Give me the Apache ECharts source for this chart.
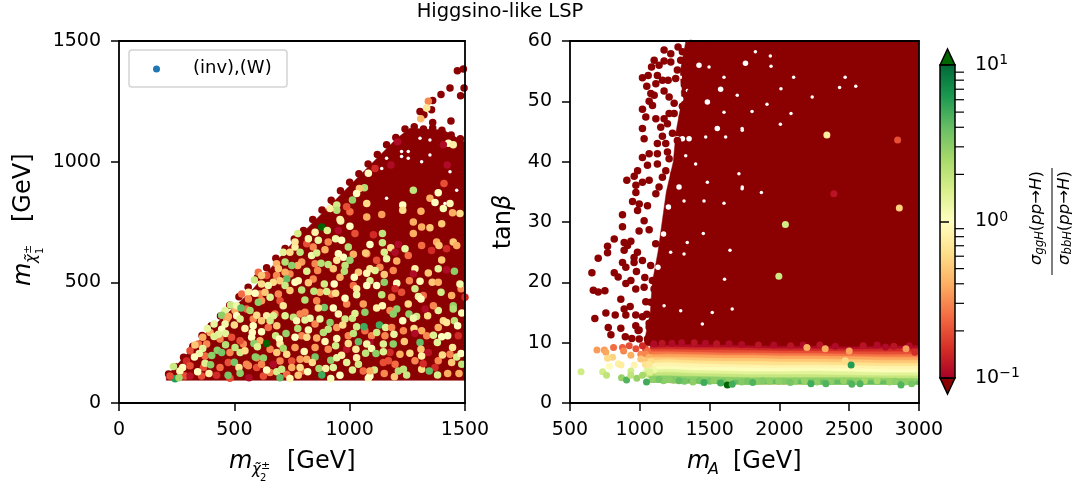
<!DOCTYPE html>
<html><head><meta charset="utf-8"><title>Higgsino-like LSP</title>
<style>html,body{margin:0;background:#fff}#c{width:1077px;height:482px}</style>
<script src="https://cdn.jsdelivr.net/npm/echarts@6/dist/echarts.min.js"></script></head>
<body><div id="c"></div>
<script>
// ---- Data. Points: [x, y, ratio]; dense regions as envelopes.
const colorbarMinor=[0.2,0.3,0.4,0.5,0.6,0.7,0.8,0.9,2,3,4,5,6,7,8,9];
const colormapStops=['#a50026','#d73027','#f46d43','#fdae61','#fee08b','#ffffbf','#d9ef8b','#a6d96a','#66bd63','#1a9850','#006837'];

// left panel: outline of the solidly covered area
const leftEnvelope=[[205,98],[205,110],[380,292],[568,458],[741,652],[842,749],[1045,944],[1204,1096],[1261,1138],[1406,1131],[1500,1080],[1500,94],[205,94]];
const leftGaps=[[1225,1042],[1225,1021],[1254,1042],[1254,1014],[1305,1097],[1348,1090],[1312,1000],[1139,972],[1160,1014],[1435,958],[1160,848],[1413,827],[1464,882],[1348,1028]];
const leftDark=[[215,120],[245,150],[280,190],[320,235],[360,280],[400,320],[440,360],[480,405],[520,440],[560,480],[600,520],[640,560],[680,600],[720,640],[760,680],[800,715],[840,760],[880,800],[920,840],[960,880],[1000,915],[1040,950],[1080,990],[1120,1030],[1160,1070],[1200,1100],[1240,1135],[1280,1145],[1320,1135],[1360,1140],[1400,1130],[1440,1110],[1480,1095],
[1467,1377],[1493,1384],[1435,1305],[1396,1278],[1481,1273],[1496,1305],[1360,1253],[1355,1215],[1305,1208],[1322,1194],[1360,1162],[1439,1169]];
const leftReds=[[683,528,.3],[640,528,.2],[604,542,.25],[683,577,.4],[741,535,.3],[532,452,.25],[618,424,.35],[503,383,.4],[553,389,.25],[395,292,.4],[467,348,.35],[582,348,.3],[647,313,.25],[438,265,.3],[380,244,.3],[344,244,.25],[308,216,.2],[481,209,.3],[611,258,.4],[539,244,.3],[655,223,.3],[763,230,.35],[366,147,.2],[438,147,.25],[474,168,.2],[553,161,.3],[597,147,.2],[655,126,.3],[727,119,.25],[286,112,.2],[358,112,.2],[481,103,.2],[626,112,.2],[373,195,.25],[293,174,.15],[597,188,.3],[698,174,.3],[749,174,.2],[676,369,.3],[611,452,.3],[698,424,.2],
[842,646,.3],[814,660,.2],[907,667,.3],[1023,702,.2],[1074,618,.3],[1117,591,.2],[1254,611,.25],[1355,632,.15],[1312,653,.25],[1377,667,.4],[1387,653,.5],[1449,667,.5],[1464,653,.4],[1399,593,.5],[1420,639,.15],[1276,702,.4],[1312,729,.4],[1348,726,.5],[1276,750,.4],[1399,743,.5],[792,584,.35],[775,570,.4],[850,577,.3],[842,514,.3],[958,521,.4],[871,459,.4],[922,452,.3],[1131,563,.3],[1016,487,.25],[1182,438,.3],[1225,459,.2],[1319,445,.25],[1442,445,.4],[1483,473,.3],[857,424,.3],[987,410,.3],[1059,410,.35],[1175,383,.3],[806,376,.3],[785,369,.3],[850,327,.3],[944,313,.35],[1066,299,.25],[1233,299,.3],[1312,299,.4],[1384,313,.4],[792,279,.3],[857,269,.4],[994,279,.3],[1095,279,.3],[1153,279,.3],[1334,279,.3],[1471,279,.15],[850,230,.35],[907,223,.3],[987,223,.12],[1175,209,.15],[1341,209,.12],[785,181,.35],[814,181,.4],[1146,168,.2],[1197,161,.25],[1283,175,.3],[1384,175,.3],[1435,202,.3],[1059,133,.25],[1168,175,.2],[1370,147,.15],[792,133,.25]];
const leftPoints=[[712,625,1.4],[741,625,.6],[763,646,.8],[720,584,2.2],[749,570,3],[691,556,.5],[720,542,.4],[618,528,.5],[587,510,1.8],[727,514,4],[669,500,.6],[698,507,.5],[618,493,.6],[647,487,1.2],[720,487,1.8],[561,459,.8],[590,455,1],[633,459,.5],[655,438,1.5],[604,417,3],[561,431,.3],[691,452,.3],[741,466,.5],[484,406,1.8],[510,403,1.2],[529,394,4],[460,383,1.4],[568,383,2.5],[445,364,3],[474,358,.4],[510,362,1],[525,348,1.5],[597,364,.6],[640,362,.8],[669,362,1.5],[712,403,.7],[720,362,1.5],[756,355,2],[655,341,1.7],[412,327,1.3],[460,327,1.2],[445,306,1],[500,323,.6],[582,320,1],[618,341,.5],[546,309,.8],[578,292,1],[684,320,.5],[724,288,2.8],[383,309,1.3],[431,285,1.4],[412,276,1.5],[462,288,1.4],[618,295,1],[575,272,1],[679,279,1.8],[695,265,1],[363,272,.4],[525,258,.2],[488,272,.2],[640,247,12],[585,247,3],[600,233,1.5],[462,241,2.2],[503,230,2],[698,244,.8],[763,272,1],[329,240,.5],[426,219,3],[445,209,3.5],[363,226,1.4],[348,205,1.2],[327,191,1],[402,197,3],[525,209,1.7],[546,216,.6],[712,227,2.5],[727,202,.6],[684,209,.5],[591,191,3],[626,186,2.8],[500,169,3.5],[373,165,1.5],[397,159,3],[236,151,1.8],[276,147,1],[264,133,.9],[308,154,.2],[341,130,1],[390,122,.8],[520,147,.7],[561,154,.3],[525,123,3],[473,115,3.5],[640,137,1],[684,130,1.6],[705,140,1.8],[749,147,.4],[698,105,4],[741,102,.9],[243,101,6],[260,105,2.5],[423,115,.15],[564,105,.11],[308,112,.12],[618,161,.3],[669,161,.11],[221,112,.2],
[879,729,12],[961,754,1.3],[903,715,1.5],[1001,732,1],[850,708,.8],[951,715,.11],[775,702,1.6],[821,681,1.2],[864,674,1.3],[939,681,1.2],[965,674,1],[1142,702,2],[1103,697,.15],[1142,664,1.8],[1088,657,1],[994,646,2.2],[785,625,2],[893,635,.4],[763,667,.7],[951,618,1],[835,611,1.2],[857,622,1.6],[1069,622,.5],[1178,643,.6],[1240,639,1.3],[1211,657,.11],[1197,625,.11],[1150,625,1.6],[1016,616,.4],[973,604,1],[1001,591,2.8],[876,579,2.2],[907,574,2],[980,570,2],[944,591,.7],[1160,598,1.3],[1204,588,.4],[1110,549,1.5],[1088,556,.7],[977,546,2.2],[814,546,1.5],[861,549,.3],[929,556,.5],[763,500,1],[777,507,.9],[1283,556,.8],[1276,535,.11],[1259,507,.3],[1305,505,.9],[1341,539,.5],[1384,556,1.4],[1454,546,3],[1420,552,.11],[1478,493,1.2],[1358,500,.5],[1384,500,.4],[1189,549,.3],[1150,532,.5],[1074,538,.9],[1038,542,.5],[1020,521,1],[1088,507,1.5],[1150,500,3],[1117,487,1],[1204,496,1],[821,498,.5],[890,493,1.7],[933,493,1],[792,468,2],[845,463,2],[900,462,1.6],[1030,473,.7],[1074,487,1],[1197,473,.15],[1283,473,1.7],[1298,441,1.3],[1309,431,1],[1254,410,.6],[1139,449,2],[1030,449,1.3],[939,455,.6],[980,434,1],[806,427,2.2],[1066,376,3],[1142,403,.9],[1117,394,.8],[929,394,1],[890,396,3.5],[864,394,.6],[1189,369,3],[1204,389,3],[1257,369,3],[1290,358,1.8],[1276,351,1.2],[1338,362,.6],[1384,383,1.4],[1449,403,2.8],[1449,389,2.2],[1486,373,.9],[1396,459,1.7],[1327,389,.11],[1500,438,.15],[1363,403,.3],[828,351,1.2],[806,344,1.4],[871,348,1.3],[770,341,1.1],[915,334,3],[980,348,1.7],[1012,351,1.8],[1023,371,1.5],[951,369,.9],[1230,341,1],[1406,341,.6],[1420,334,.7],[1454,341,2],[1468,320,1],[775,309,2.2],[821,303,1.1],[886,292,2.2],[907,306,2],[970,323,.6],[1030,316,1.7],[1062,316,5],[1129,323,5],[1156,313,1.5],[1279,309,.6],[1016,288,2],[1117,292,1.8],[1182,313,.3],[1363,281,1.5],[1399,274,1],[1425,279,1],[814,272,.6],[944,267,.9],[893,255,.9],[1038,254,4],[1088,251,.11],[1146,244,1.5],[1189,244,3],[1192,285,1.3],[1074,244,1.2],[1095,226,1.1],[1237,255,.5],[1305,251,4],[1380,251,1.4],[1446,230,.7],[939,237,1.7],[994,247,.6],[803,213,.9],[1027,223,.7],[1069,206,2],[1114,205,3],[1146,212,1.5],[1218,202,.4],[1261,206,.6],[1309,223,.5],[1312,195,.8],[1402,199,.6],[1464,191,1.6],[1483,205,1],[965,198,.8],[850,191,3.5],[918,177,3],[944,188,1.3],[987,168,1.4],[1030,188,.8],[1038,161,1.7],[838,168,.6],[785,147,.6],[867,143,2.5],[896,143,.8],[929,147,1.4],[818,129,1],[1107,137,1.7],[879,116,5],[777,115,.5],[958,115,1],[1012,137,1.5],[1088,112,1],[1150,122,.3],[1194,109,.5],[1211,133,2.2],[1233,140,2],[1247,116,1.8],[1312,140,.6],[1345,133,4],[1381,116,1.6],[1425,122,.4],[1474,122,.4],[1486,161,2],[918,102,1.1],[1088,133,.4],[1081,103,1],[1283,288,.11],[1319,163,.15],[1442,168,.5],
[1341,1250,.3],[1308,1178,.45],[1334,1222,.7],[1081,952,1],[1064,892,2.2],[1042,889,.5],[1030,868,1],[1012,841,2.8],[1074,827,.6],[944,820,1.7],[944,799,2.2],[915,806,.8],[1276,882,2],[1384,871,1],[1230,820,1],[1230,799,.6],[1348,848,.4],[1370,831,1],[1406,806,1.1],[1435,827,.9],[1428,1076,1],[1449,1070,.8],[1478,785,.6],[1446,788,.4],[1309,795,.4],[1139,781,.35],[1074,771,.4],[1001,792,.25],[987,813,.2],[1110,972,.15],[1208,1083,.11],[1179,986,.11],[1409,910,.2],[1423,986,.11],[1406,1070,.11],[958,760,.8]];

// right panel: outline of the solidly covered area and the horizontal ratio band
const rightEnvelope=[[1330,60],[1290,55],[1300,50],[1260,45],[1240,40],[1190,35],[1160,30],[1130,25],[1090,20],[1075,15],[1040,11],[1030,9.5],[3000,9],[3000,60]];
const rightGapsLarge=[[1424,56],[1305,43.8],[1269,43.8],[1353,43.8],[1257,51.3],[1293,50.4],[1281,52.1],[1246,38],[1281,35.8],[1579,52],[1555,45.5],[1757,56.3],[1484,49.9],[1205,32.5],[1170,28],[1130,22.5]];
const rightGaps=[[1472,44.1],[1484,36.6],[1603,48.2],[1734,45.2],[1710,38],[1734,35.8],[1460,33.5],[1603,33.1],[1698,51],[1615,44.1],[1400,39.6],[1496,55.7],[1603,54],[1940,55.8],[2011,52.1],[1804,48.3],[2083,48],[1828,58.2],[1935,57.5],[2102,54],[1733,45.5],[1733,35.5],[2471,54],[2547,52.5],[2235,50.7],[1911,49.5],[2007,46.2],[1871,34.9],[2431,52.3],[1340,26.6],[1317,24.7],[1221,25],[1174,16.1],[1293,15.3],[1646,25.3],[1519,15],[1455,28.1],[1448,13.1],[1662,15.6],[1607,20.5],[1329,41],[1317,33.5],[1341,51.8],[1293,54]];
const rightDark=[[1174,58.5],[1222,57.9],[1274,59],[1305,58.2],[1365,59.6],[1448,59.5],[1400,58.2],[1353,57.6],[1293,56.8],[1103,56.8],[1138,56],[1174,56.7],[1222,56.5],[1084,55.7],[1019,53.9],[1060,54.3],[1126,54.3],[1162,53.5],[1203,53.5],[1050,52.5],[1115,52.9],[1329,56.3],[1269,55.2],[1257,53.8],[1329,54],[1388,52.1],[1365,51.5],[1174,51.7],[1079,51.3],[1103,51],[1067,50],[1210,50.7],[1246,49.7],[1305,49.2],[1091,49.3],[1019,48.7],[1210,48],[1246,48],[1043,47.4],[1115,47.1],[1174,47.1],[1198,46.3],[1019,45.5],[1150,45.7],[1234,44.7],[1162,44.2],[1031,43.8],[1126,43],[1186,43],[1269,43.5],[1019,40.7],[1067,41.3],[1126,41.3],[1198,41.6],[1210,40.5],[1055,39.4],[1126,39.6],[1186,38.5],[984,38.5],[960,37.6],[907,36.9],[1019,36.6],[972,36.1],[1067,36.9],[1162,37.4],[972,34.9],[948,33.4],[996,33],[876,31.2],[984,31.9],[1055,32.7],[1138,35.8],[1115,34.7],[1246,38],[1305,39.6],[1376,50.2],[1305,47.4],[1353,47.7],[1293,45.7],[1341,45.2],
[876,29.2],[817,27.2],[769,26],[769,24.9],[702,24],[657,21.6],[817,21.6],[845,20.9],[667,18.7],[702,18.4],[750,18.6],[864,17.2],[678,14],[757,14.9],[824,14.6],[774,12.5],[864,12.4],[888,26.6],[936,26.8],[912,26.1],[888,25.3],[876,23.3],[900,22.5],[995,28.5],[1067,28.7],[1031,30.2],[983,25],[959,24.1],[959,23.3],[1019,23.6],[1078,22.8],[1114,26.4],[976,21.8],[1036,20.8],[936,20.3],[900,19.8],[971,18.9],[1031,19.2],[1090,20.3],[1102,18.9],[1043,16.8],[1078,16.7],[931,16],[888,15.6],[900,14.6],[971,14.6],[1019,14.3],[1050,14.7],[971,12.8],[995,12.1],[1067,13.2],[793,11.3],[896,11],[943,10.7],[996,10.6],[988,12],[1055,10.6],[1067,12.6]];
const rightBandTop=[[1100,9.8,.11],[1160,9.9,.12],[1230,9.9,.11],[1300,10,.11],[1390,10,.12],[1470,9.9,.11],[1550,9.8,.12],[1640,9.8,.11],[1730,9.7,.11],[1850,9.6,.12],[1960,9.6,.11],[2080,9.5,.12],[2170,9.6,.11],[2290,9.6,.12],[2400,9.4,.11],[2600,9.5,.12],[2700,9.6,.11],[2820,9.4,.12],[2930,9.5,.11]];
const rightBandEnd=[[1040,9,.2],[1055,8.6,.25],[1045,8.1,.3],[1065,7.6,.4],[1050,7,.5],[1080,6.9,.6],[1040,6.4,.65],[1090,6,.9],[1100,5.5,1.2],[1050,5.3,1.4],[1060,4.8,1.9],[1085,4.4,2.4],[1090,3.9,3]];
const rightBandEdge=[[1100,3.9,3],[1170,3.7,3],[1240,3.8,3.2],[1320,3.6,3.5],[1380,3.5,3],[1430,3.7,3.5],[1500,3.6,3.5],[1530,3.7,3],[1600,3.5,3.5],[1640,3.6,3],[1730,3.5,3.2],[1770,3.6,3.5],[1840,3.6,3],[1880,3.7,3.2],[1930,3.6,3],[2030,3.6,3.2],[2110,3.6,3],[2180,3.7,2.8],[2270,3.5,3],[2370,3.6,3],[2460,3.7,2.8],[2550,3.6,3],[2610,3.7,2.5],[2700,3.7,2.4],[2790,3.5,2.8],[2830,3.6,3],[2900,3.5,3],[2950,3.6,2.8]];
const rightPoints=[[693,8.8,.35],[746,8.8,.35],[757,8.4,.38],[812,9.2,.25],[876,9.2,.22],[924,9.5,.2],[884,8.6,.3],[936,7.9,.4],[805,7.6,.55],[769,7.4,.6],[781,6.1,.95],[846,6.5,.8],[865,6.3,.75],[960,6.3,.85],[579,5.2,1.7],[734,5.2,1.7],[762,4.6,2],[869,4.2,2.8],[905,3.8,4.5],[936,5.3,1.7],[936,4.6,2],[979,4.1,2.8],[1019,4.6,2.5],[1048,3.5,5],[1074,5.1,1.5],[1138,3.9,3.5],[1210,3.9,3],[1281,3.7,4],[1460,3.4,5],[1579,3.3,5],[1627,3,12],[1662,3.1,5],[1007,8.1,.3],[972,9,.2],[1007,7.3,.5],[1067,6.4,.7],[1019,9.5,.15],
[1809,3.4,4.5],[1995,3.55,3],[2078,3.4,3.5],[2226,3.2,5],[2333,3.2,4.5],[2519,3.1,4.5],[2578,3.2,4.5],[2871,3,4.5],[2947,3.2,3.5],[2197,9.2,.4],[2328,9,.4],[2500,8.6,.37],[2471,7,.6],[2514,6.3,6],[2907,9,.35],[2760,9.3,.11],[2970,8.4,.15],
[2340,44.4,.75],[2847,43.6,.2],[2390,34.7,.12],[2859,32.3,.55],[2043,29.6,1.7],[1996,21,1.8]];
const bandX=[1075,1200,1400,1600,1800,2000,2250,2500,2750,3000];
const bandRatios=[.11,.15,.2,.27,.37,.5,.65,.85,1.05,1.4,1.9,3,4];
const bandTops=[[9.5,9.6,9.7,9.6,9.5,9.4,9.4,9.3,9.4,9.5],[9.2,9.3,9.2,9.2,9.1,9,9,8.9,9,9],[8.9,8.9,8.8,8.8,8.7,8.6,8.6,8.5,8.5,8.5],[8.5,8.5,8.4,8.3,8.3,8.2,8.2,8.1,8,8.1],[8,8.1,8,7.9,7.9,7.8,7.8,7.7,7.6,7.6],[7.6,7.6,7.5,7.4,7.4,7.3,7.3,7.2,7.1,7.1],[7.1,7.2,7,6.9,6.9,6.8,6.8,6.7,6.6,6.6],[6.6,6.7,6.5,6.4,6.3,6.2,6.3,6.2,6.1,6.1],[6,6.1,5.9,5.9,5.8,5.7,5.8,5.7,5.6,5.5],[5.5,5.6,5.4,5.3,5.2,5.2,5.3,5.2,5,5],[5,5.1,4.9,4.8,4.7,4.7,4.7,4.6,4.5,4.5],[4.5,4.5,4.4,4.3,4.2,4.2,4.2,4.2,4.1,4],[4,4,3.9,3.8,3.8,3.8,3.8,3.8,3.7,3.6]];
const bandBottom=[3.5,3.4,3.3,3.2,3.1,3.2,3.1,3.1,3.1,3.1];

// ---- helpers
const DARK_LOW='#8b0000',DARK_HIGH='#006400';
function hex(c){return [1,3,5].map(i=>parseInt(c.substr(i,2),16));}
function cmap(v){
  if(v<=0.1)return DARK_LOW; if(v>=10)return DARK_HIGH;
  const t=(Math.log10(v)+1)/2*(colormapStops.length-1),i=Math.floor(t),f=t-i;
  const a=hex(colormapStops[i]),b=hex(colormapStops[Math.min(i+1,colormapStops.length-1)]);
  return 'rgb('+a.map((x,k)=>Math.round(x+(b[k]-x)*f)).join(',')+')';
}
const FONT='DejaVu Sans';
const LABEL={fontFamily:FONT,fontSize:19,color:'#000'};
function valAxis(idx,pos,min,max,interval,plain){
  return {type:'value',gridIndex:idx,position:pos,min,max,interval,z:10,
    axisLine:{show:true,onZero:false,lineStyle:{color:'#000',width:1.8}},
    splitLine:{show:false},
    axisTick:{show:!plain,length:8,inside:false,lineStyle:{color:'#000',width:1.5}},
    axisLabel:Object.assign({show:!plain,margin:18,hideOverlap:false,showMinLabel:true,showMaxLabel:true,formatter:v=>String(v)},LABEL)};
}
function polygonSeries(xi,yi,verts,color,z){
  return {type:'custom',xAxisIndex:xi,yAxisIndex:yi,z,silent:true,clip:true,animation:false,data:[[verts[0][0],verts[0][1]]],
    renderItem:(p,api)=>({type:'polygon',shape:{points:verts.map(v=>api.coord(v))},style:{fill:color,stroke:color,lineWidth:.5}})};
}
function scatter(xi,yi,data,z,color,size){
  return {type:'scatter',xAxisIndex:xi,yAxisIndex:yi,z,silent:true,animation:false,clip:true,symbol:'circle',symbolSize:size,
    data,itemStyle:{opacity:1,color:color||(p=>cmap(p.value[2]))}};
}
const bandSeries=bandRatios.map((r,i)=>{
  const verts=bandX.map((x,k)=>[x,bandTops[i][k]]).concat(bandX.map((x,k)=>[x,bandBottom[k]]).reverse());
  return polygonSeries(2,2,verts,cmap(r),3);
});
const T=(o)=>({type:'text',silent:true,z:50,...o});
const it={fontFamily:FONT,fontStyle:'italic',fill:'#000'};
const up={fontFamily:FONT,fill:'#000'};
const TITLE=24;
const chart=echarts.init(document.getElementById('c'),null,{renderer:'canvas'});
chart.setOption({
  backgroundColor:'#fff',animation:false,
  grid:[{left:119,top:41,width:346,height:362},{left:570,top:41,width:349,height:362},{left:940,top:65,width:15,height:313}],
  xAxis:[
    valAxis(0,'bottom',0,1500,500),
    valAxis(0,'top',0,1500,500,true),
    valAxis(1,'bottom',500,3000,500),
    valAxis(1,'top',500,3000,500,true),
    {type:'value',gridIndex:2,min:0,max:1,show:false}
  ],
  yAxis:[
    valAxis(0,'left',0,1500,500),
    valAxis(0,'right',0,1500,500,true),
    valAxis(1,'left',0,60,10),
    valAxis(1,'right',0,60,10,true),
    {type:'log',gridIndex:2,position:'right',min:0.1,max:10,logBase:10,z:10,
     axisLine:{show:false},splitLine:{show:false},minorTick:{show:false},
     axisTick:{length:9,lineStyle:{color:'#000',width:1.5}},
     axisLabel:{margin:20,fontFamily:FONT,fontSize:19,color:'#000',showMinLabel:true,showMaxLabel:true,
       formatter:v=>'10{s|'+String(Math.round(Math.log10(v))).replace('-','\u2212')+'}',
       rich:{s:{fontFamily:FONT,fontSize:14,color:'#000',padding:[0,0,9,0]}}}}
  ],
  series:[
    polygonSeries(0,0,leftEnvelope,DARK_LOW,2),
    scatter(0,0,leftGaps,3,'#fff',3.5),
    scatter(0,0,leftDark,3,DARK_LOW,7.5),
    scatter(0,0,leftReds,4,null,7.5),
    scatter(0,0,leftPoints,4,null,7.5),
    polygonSeries(2,2,rightEnvelope,DARK_LOW,2),
    ...bandSeries,
    scatter(2,2,rightGapsLarge,3,'#fff',5.5),
    scatter(2,2,rightGaps,3,'#fff',3.5),
    scatter(2,2,rightDark,3,DARK_LOW,7.5),
    scatter(2,2,rightBandTop,3,null,7),
    scatter(2,2,rightBandEnd,4,null,7),
    scatter(2,2,rightBandEdge,4,null,7),
    scatter(2,2,rightPoints,4,null,7),
    {type:'custom',xAxisIndex:4,yAxisIndex:4,z:5,silent:true,animation:false,clip:false,data:[[0,1]],
     renderItem:(p,api)=>{
       const a=api.coord([0,10]),b=api.coord([1,0.1]);
       const [x0,y0,x1,y1]=[a[0],a[1],b[0],b[1]],mx=(x0+x1)/2;
       const stops=colormapStops.map((c,i)=>({offset:i/(colormapStops.length-1),color:c}));
       const line={stroke:'#000',lineWidth:1.5};
       const children=[
         {type:'polygon',shape:{points:[[x0,y0],[mx,y0-16],[x1,y0]]},style:{fill:DARK_HIGH,...line}},
         {type:'polygon',shape:{points:[[x0,y1],[mx,y1+16],[x1,y1]]},style:{fill:DARK_LOW,...line}},
         {type:'rect',shape:{x:x0,y:y0,width:x1-x0,height:y1-y0},
          style:{fill:new echarts.graphic.LinearGradient(0,1,0,0,stops),...line}}
       ];
       colorbarMinor.forEach(v=>{const q=api.coord([1,v]);
         children.push({type:'line',shape:{x1:x1,y1:q[1],x2:x1+9,y2:q[1]},style:{stroke:'#000',lineWidth:1.2}});});
       return {type:'group',children};
     }}
  ],
  graphic:[
    T({x:500,y:12,style:{text:'Higgsino-like LSP',...up,fontSize:19.5,textAlign:'center',textVerticalAlign:'middle'}}),
    // legend
    {type:'rect',z:40,silent:true,shape:{x:129,y:50,width:158,height:37,r:3},style:{fill:'rgba(255,255,255,.85)',stroke:'#d4d4d4',lineWidth:1.5}},
    {type:'circle',z:41,silent:true,shape:{cx:156.5,cy:69,r:3.5},style:{fill:'#1f77b4'}},
    T({x:193,y:68,style:{text:'(inv),(W)',...up,fontSize:18,textVerticalAlign:'middle'}}),
    // x titles
    T({x:229,y:462,style:{text:'m',...it,fontSize:TITLE,textVerticalAlign:'middle'}}),
    T({x:252,y:470,style:{text:'\u03c7\u0303',...it,fontSize:15,textVerticalAlign:'middle'}}),
    T({x:261,y:466,style:{text:'\u00b1',...up,fontSize:11,textVerticalAlign:'middle'}}),
    T({x:260,y:478,style:{text:'2',...up,fontSize:10,textAlign:'left',textVerticalAlign:'middle'}}),
    T({x:287,y:462,style:{text:'[GeV]',...up,fontSize:TITLE,textVerticalAlign:'middle'}}),
    T({x:687,y:462,style:{text:'m',...it,fontSize:TITLE,textVerticalAlign:'middle'}}),
    T({x:708,y:470,style:{text:'A',...it,fontSize:16,textVerticalAlign:'middle'}}),
    T({x:733,y:462,style:{text:'[GeV]',...up,fontSize:TITLE,textVerticalAlign:'middle'}}),
    // y titles
    T({x:24,y:286,rotation:Math.PI/2,style:{text:'m',...it,fontSize:TITLE,textVerticalAlign:'middle'}}),
    T({x:32,y:263,rotation:Math.PI/2,style:{text:'\u03c7\u0303',...it,fontSize:15,textVerticalAlign:'middle'}}),
    T({x:28,y:254,rotation:Math.PI/2,style:{text:'\u00b1',...up,fontSize:11,textVerticalAlign:'middle'}}),
    T({x:40,y:254,rotation:Math.PI/2,style:{text:'1',...up,fontSize:10,textVerticalAlign:'middle'}}),
    T({x:24,y:222,rotation:Math.PI/2,style:{text:'[GeV]',...up,fontSize:TITLE,textVerticalAlign:'middle'}}),
    T({x:504,y:222,rotation:Math.PI/2,style:{rich:{i:{...it,fontSize:TITLE,fontFamily:FONT},r:{...up,fontSize:TITLE}},text:'{r|tan}{i|\u03b2}',textAlign:'center',textVerticalAlign:'middle'}}),
    // colorbar title
    T({x:1037,y:218,rotation:Math.PI/2,style:{rich:{a:{...it,fontSize:16.5},s:{...it,fontSize:11.5,padding:[7,0,0,0]},r:{...up,fontSize:16.5}},text:'{a|\u03c3}{s|ggH}{r|(}{a|pp}{r|\u2192}{a|H}{r|)}',textAlign:'center',textVerticalAlign:'middle'}}),
    T({x:1065,y:218,rotation:Math.PI/2,style:{rich:{a:{...it,fontSize:16.5},s:{...it,fontSize:11.5,padding:[7,0,0,0]},r:{...up,fontSize:16.5}},text:'{a|\u03c3}{s|bbH}{r|(}{a|pp}{r|\u2192}{a|H}{r|)}',textAlign:'center',textVerticalAlign:'middle'}}),
    {type:'rect',z:50,silent:true,shape:{x:1051.5,y:168,width:1,height:107},style:{fill:'#000'}}
  ]
});
</script></body></html>
